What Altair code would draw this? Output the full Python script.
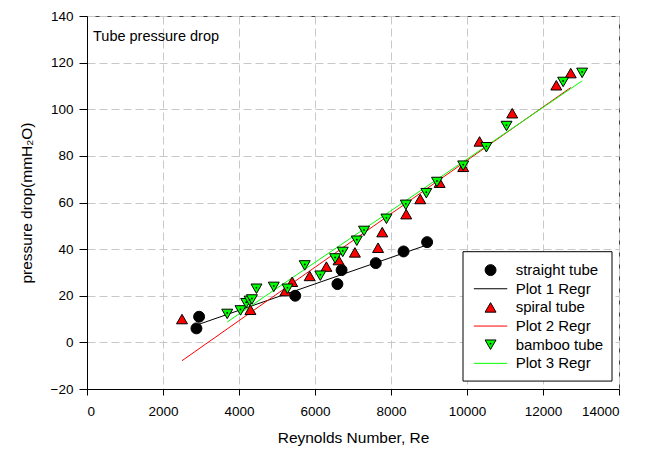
import altair as alt
import pandas as pd

# ---- data ----
straight_re = [2880, 2950, 5480, 6590, 6700, 7600, 8330, 8950]
straight_dp = [6, 11, 20, 25, 31, 34, 39, 43]

spiral_re = [2500, 4300, 5220, 5400, 5860, 6300, 6620, 7050, 7660, 7770,
             8400, 8770, 9280, 9900, 10330, 11190, 12350, 12730]
spiral_dp = [10, 14, 22, 26, 28.5, 32.5, 35.3, 38.6, 40.6, 47.3,
             55, 61.5, 68.5, 75.3, 86.2, 98.3, 110.3, 115.5]

bamboo_re = [3690, 4040, 4190, 4280, 4340, 4460, 4915, 5275, 5730, 6140,
             6530, 6730, 7100, 7290, 7880, 8390, 8930, 9210, 9900, 10510,
             11040, 12530, 13030]
bamboo_dp = [12.2, 13.7, 16.8, 17.8, 18.4, 23, 23.8, 23, 33, 28.6,
             36, 38.8, 43.6, 47.8, 53, 59, 64, 68.8, 75.8, 83.7,
             92.8, 111.7, 115.6]

series_names = ["straight tube", "spiral tube", "bamboo tube"]
regr_names = ["Plot 1 Regr", "Plot 2 Regr", "Plot 3 Regr"]
series_fill = ["#000000", "#ff0000", "#00ff00"]
series_shape = ["circle", "triangle-up", "triangle-down"]

x_ticks = list(range(0, 14001, 2000))
y_ticks = list(range(-20, 141, 20))

rows = []
for name, xs, ys in [(series_names[0], straight_re, straight_dp),
                     (series_names[1], spiral_re, spiral_dp),
                     (series_names[2], bamboo_re, bamboo_dp)]:
    for a, b in zip(xs, ys):
        rows.append({"Re": a, "dp": b, "series": name})
df = pd.DataFrame(rows)

# legend layout (data units of the chart)
leg_rows = []
for i in range(3):
    leg_rows.append({"label": series_names[i], "kind": "pt", "series": series_names[i], "row": 2 * i})
    leg_rows.append({"label": regr_names[i], "kind": "ln", "series": series_names[i], "row": 2 * i + 1})
leg = pd.DataFrame(leg_rows)
leg["dp"] = 31 - 8 * leg["row"]
leg["Re"] = 10620
leg["Re_a"] = 10180
leg["Re_b"] = 11060
leg["Re_t"] = 11280

FONT = "Liberation Sans"

xscale = alt.Scale(domain=[0, 14000], nice=False, zero=False)
yscale = alt.Scale(domain=[-20, 140], nice=False, zero=False)
X = alt.X("Re:Q", scale=xscale,
          axis=alt.Axis(title="Reynolds Number, Re", values=x_ticks, format="d"))
Y = alt.Y("dp:Q", scale=yscale,
          axis=alt.Axis(title="pressure drop(mmH\u2082O)", values=y_ticks, format="d"))
fill_scale = alt.Scale(domain=series_names, range=series_fill)
shape_scale = alt.Scale(domain=series_names, range=series_shape)

base = alt.Chart(df)

regr = base.transform_regression("Re", "dp", groupby=["series"]).mark_line(
    strokeWidth=1, clip=True
).encode(
    x=X, y=Y,
    color=alt.Color("series:N", scale=fill_scale, legend=None),
)

pts = base.mark_point(filled=True, size=120, stroke="black", strokeWidth=1, opacity=1).encode(
    x=X, y=Y,
    fill=alt.Fill("series:N", scale=fill_scale, legend=None),
    shape=alt.Shape("series:N", scale=shape_scale, legend=None),
)

dots = base.transform_filter(alt.datum.series == series_names[2]).mark_circle(
    size=3, color="black", opacity=1, yOffset=-1
).encode(x=X, y=Y)

title_txt = alt.Chart(pd.DataFrame({"t": ["Tube pressure drop"]})).mark_text(
    align="left", baseline="alphabetic", fontSize=14.5, font=FONT, color="black"
).encode(x=alt.value(6), y=alt.value(25), text="t:N")

box = alt.Chart(pd.DataFrame({"Re": [9895], "Re2": [13816], "dp": [38.9], "dp2": [-16.6]})).mark_rect(
    fill="white", stroke="black", strokeWidth=1
).encode(x=X, x2="Re2:Q", y=Y, y2="dp2:Q")

leg_base = alt.Chart(leg)
leg_pts = leg_base.transform_filter(alt.datum.kind == "pt").mark_point(
    filled=True, size=120, stroke="black", strokeWidth=1, opacity=1
).encode(
    x=X, y=Y,
    fill=alt.Fill("series:N", scale=fill_scale, legend=None),
    shape=alt.Shape("series:N", scale=shape_scale, legend=None),
)
leg_dots = leg_base.transform_filter(
    (alt.datum.kind == "pt") & (alt.datum.series == series_names[2])
).mark_circle(size=3, color="black", opacity=1, yOffset=-1).encode(x=X, y=Y)
leg_lines = leg_base.transform_filter(alt.datum.kind == "ln").mark_rule(strokeWidth=1).encode(
    x=alt.X("Re_a:Q", scale=xscale), x2="Re_b:Q", y=Y,
    color=alt.Color("series:N", scale=fill_scale, legend=None),
)
leg_text = leg_base.mark_text(
    align="left", baseline="middle", fontSize=15, font=FONT, color="black"
).encode(x=alt.X("Re_t:Q", scale=xscale), y=Y, text="label:N")

chart = alt.layer(
    regr, pts, dots, title_txt, box, leg_lines, leg_pts, leg_dots, leg_text
).properties(
    width=532, height=373,
    autosize=alt.AutoSizeParams(type="none"),
    padding={"left": 79, "top": 8, "right": 20, "bottom": 66},
).configure_view(
    stroke="#444444", strokeWidth=1
).configure_axis(
    grid=True, gridColor="#c8c8c8", gridDash=[8, 4], gridWidth=1,
    domainColor="black", tickColor="black", domainWidth=1, tickWidth=1,
    labelFont=FONT, labelFontSize=13.5, labelColor="black",
    titleFont=FONT, titleFontSize=15.5, titleFontWeight="normal", titleColor="black",
).configure_axisX(
    tickSize=6, labelPadding=9, titlePadding=13,
).configure_axisY(
    tickSize=8, labelPadding=6, titlePadding=16,
)

chart.save("out.html", embed_options={"renderer": "svg", "actions": False})
